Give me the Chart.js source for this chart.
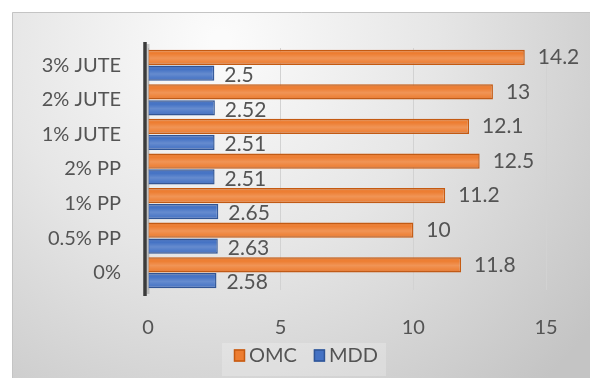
<!DOCTYPE html>
<html>
<head>
<meta charset="utf-8">
<script src="https://cdn.jsdelivr.net/npm/chart.js@4/dist/chart.umd.min.js"></script>
<style>
  html, body { margin: 0; padding: 0; background: #ffffff; }
  #wrap { width: 590px; height: 378px; }
</style>
</head>
<body>
<div id="wrap"><canvas id="c" width="590" height="378"></canvas></div>
<script>
// Mixtures, listed top to bottom as they appear on the axis
const categories = ['3% JUTE', '2% JUTE', '1% JUTE', '2% PP', '1% PP', '0.5% PP', '0%'];
// Optimum moisture content (%)
const omcValues = [14.2, 13, 12.1, 12.5, 11.2, 10, 11.8];
// Maximum dry density (g/cc)
const mddValues = [2.5, 2.52, 2.51, 2.51, 2.65, 2.63, 2.58];
const seriesNames = ['OMC', 'MDD'];
const xTicks = [0, 5, 10, 15];

const FONT = 'Lato, "Open Sans", sans-serif';
const TEXT = '#545454';

// Soft grey backdrop with a thin frame on the top and left edges
const backdrop = {
  id: 'backdrop',
  beforeDraw(chart) {
    const { ctx, width, height } = chart;
    ctx.save();
    ctx.fillStyle = '#ffffff';
    ctx.fillRect(0, 0, width, height);
    const g = ctx.createRadialGradient(220, 40, 10, 220, 40, 470);
    g.addColorStop(0, '#fbfbfb');
    g.addColorStop(0.45, '#e6e6e6');
    g.addColorStop(1, '#c4c4c4');
    ctx.fillStyle = g;
    ctx.fillRect(12, 12, width - 12, height - 12);
    ctx.strokeStyle = '#c4c4c4';
    ctx.lineWidth = 1;
    ctx.beginPath();
    ctx.moveTo(12.5, height);
    ctx.lineTo(12.5, 12.5);
    ctx.lineTo(width, 12.5);
    ctx.stroke();
    ctx.restore();
  }
};

// Dark wall edge along the value origin
const wallEdge = {
  id: 'wallEdge',
  beforeDatasetsDraw(chart) {
    const { ctx, chartArea } = chart;
    const x0 = chart.scales.x.getPixelForValue(0) - 3;
    ctx.save();
    ctx.strokeStyle = 'rgba(120,120,120,0.35)';
    ctx.lineWidth = 3;
    ctx.beginPath();
    ctx.moveTo(x0 + 3, chartArea.top - 4);
    ctx.lineTo(x0 + 3, chartArea.bottom + 4);
    ctx.stroke();
    ctx.strokeStyle = '#3b3b3b';
    ctx.lineWidth = 3.5;
    ctx.beginPath();
    ctx.moveTo(x0, chartArea.top - 6);
    ctx.lineTo(x0, chartArea.bottom + 6);
    ctx.stroke();
    ctx.restore();
  }
};

// Cylinder-like shading over each bar, then the value labels
const barShade = {
  id: 'barShade',
  afterDatasetsDraw(chart) {
    const { ctx } = chart;
    chart.data.datasets.forEach((ds, di) => {
      const meta = chart.getDatasetMeta(di);
      meta.data.forEach((bar, i) => {
        const p = bar.getProps(['x', 'y', 'base', 'height'], true);
        const top = p.y - p.height / 2, bot = p.y + p.height / 2;
        const g = ctx.createLinearGradient(0, top, 0, bot);
        g.addColorStop(0, 'rgba(90,40,0,0.15)');
        g.addColorStop(0.25, 'rgba(255,255,255,0)');
        g.addColorStop(0.55, 'rgba(255,255,255,0.18)');
        g.addColorStop(0.8, 'rgba(255,255,255,0.06)');
        g.addColorStop(1, 'rgba(40,30,60,0.18)');
        ctx.save();
        ctx.fillStyle = g;
        ctx.fillRect(p.base + 1, top + 1, p.x - p.base - 2, p.height - 2);
        ctx.restore();

        // value label
        const v = ds.data[i];
        ctx.save();
        ctx.font = '21px ' + FONT;
        ctx.fillStyle = TEXT;
        ctx.textBaseline = 'middle';
        ctx.textAlign = 'left';
        const dx = di === 0 ? 13 : 10;
        const dy = di === 0 ? 0 : 2;
        ctx.fillText(String(v), p.x + dx, p.y + dy);
        ctx.restore();
      });
    });
  }
};

// Legend strip below the axis
const legendStrip = {
  id: 'legendStrip',
  afterDraw(chart) {
    const { ctx } = chart;
    ctx.save();
    ctx.fillStyle = 'rgba(255,255,255,0.22)';
    ctx.fillRect(222, 343, 164, 33);
    ctx.font = '20px ' + FONT;
    ctx.textBaseline = 'middle';
    ctx.textAlign = 'left';
    const cy = 355.5;
    let x = 234;
    chart.data.datasets.forEach((ds) => {
      ctx.fillStyle = ds.backgroundColor;
      ctx.fillRect(x, cy - 6, 11, 12);
      ctx.strokeStyle = ds.borderColor;
      ctx.lineWidth = 1.5;
      ctx.strokeRect(x + 0.5, cy - 5.5, 10, 11);
      ctx.fillStyle = TEXT;
      ctx.fillText(ds.label, x + 15, cy);
      x += 15 + ctx.measureText(ds.label).width + 17;
    });
    ctx.restore();
  }
};

new Chart(document.getElementById('c'), {
  type: 'bar',
  data: {
    labels: categories,
    datasets: [
      {
        label: seriesNames[0],
        data: omcValues,
        backgroundColor: '#ED7D31',
        borderColor: '#C55A11',
        borderWidth: 1.5,
        categoryPercentage: 0.92,
        barPercentage: 0.96
      },
      {
        label: seriesNames[1],
        data: mddValues,
        backgroundColor: '#4472C4',
        borderColor: '#2F5597',
        borderWidth: 1.5,
        categoryPercentage: 0.92,
        barPercentage: 0.96
      }
    ]
  },
  options: {
    indexAxis: 'y',
    responsive: false,
    animation: false,
    devicePixelRatio: 1,
    layout: { padding: { left: 12, top: 48, right: 44, bottom: 38 } },
    plugins: {
      legend: { display: false },
      tooltip: { enabled: false }
    },
    scales: {
      x: {
        type: 'linear',
        min: xTicks[0],
        max: xTicks[xTicks.length - 1],
        afterBuildTicks(scale) {
          scale.ticks = xTicks.map(v => ({ value: v }));
        },
        afterFit(scale) { scale.height = 50; },
        grid: { color: '#d2d2d2', lineWidth: 1, drawTicks: false },
        border: { display: false },
        ticks: {
          padding: 26,
          color: TEXT,
          font: { family: FONT, size: 20 }
        }
      },
      y: {
        type: 'category',
        afterFit(scale) { scale.width = 136; },
        grid: { display: false, drawTicks: false },
        border: { display: false },
        ticks: {
          padding: 27,
          color: TEXT,
          font: { family: FONT, size: 20 }
        }
      }
    }
  },
  plugins: [backdrop, wallEdge, barShade, legendStrip]
});
</script>
</body>
</html>
